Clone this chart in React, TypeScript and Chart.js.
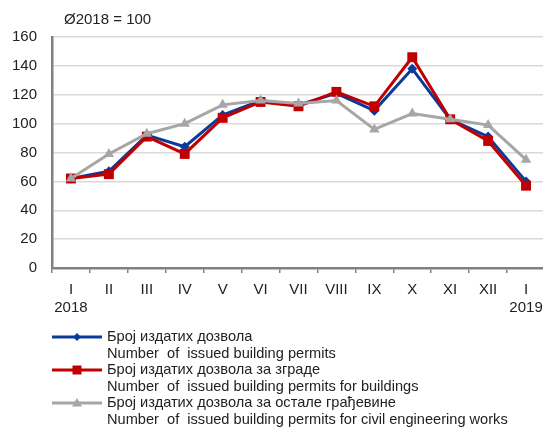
import React, { useEffect, useRef } from "react";
import { Chart, registerables } from "chart.js";

Chart.register(...registerables);

const categories: string[][] = [["I", "2018"], ["II"], ["III"], ["IV"], ["V"], ["VI"], ["VII"], ["VIII"], ["IX"], ["X"], ["XI"], ["XII"], ["I", "2019"]];
const totalPermits = [62, 67, 92, 84, 106, 116, 113, 121, 109, 138, 103, 91, 60];
const buildingPermits = [62, 65, 91, 79, 104, 115, 112, 122, 112, 146, 103, 88, 57];
const civilPermits = [62, 79, 93, 100, 113, 116, 114, 116, 96, 107, 103, 99, 75];
const seriesLabels = [
  ["Број издатих дозвола", "Number  of  issued building permits"],
  ["Број издатих дозвола за зграде", "Number  of  issued building permits for buildings"],
  ["Број издатих дозвола за остале грађевине", "Number  of  issued building permits for civil engineering works"],
];
const titleText = "Ø2018 = 100";

const BLUE = "#0b3a9a";
const RED = "#c00000";
const GRAY = "#a6a6a6";
const FONT = "Arial, 'Liberation Sans', sans-serif";
const NARROW = "'Liberation Sans Narrow', 'Arial Narrow', Arial, sans-serif";

function drawMarker(ctx: CanvasRenderingContext2D, style: string, x: number, y: number, r: number, color: string) {
  ctx.fillStyle = color;
  ctx.beginPath();
  if (style === "rectRot") {
    ctx.moveTo(x, y - r);
    ctx.lineTo(x + r, y);
    ctx.lineTo(x, y + r);
    ctx.lineTo(x - r, y);
  } else if (style === "rect") {
    ctx.rect(x - r, y - r, 2 * r, 2 * r);
  } else {
    ctx.moveTo(x, y - r);
    ctx.lineTo(x + r, y + r * 0.7);
    ctx.lineTo(x - r, y + r * 0.7);
  }
  ctx.closePath();
  ctx.fill();
}

const overlay = {
  id: "overlay",
  afterDraw(chart: any) {
    const ctx = chart.ctx;
    ctx.save();
    ctx.fillStyle = "#222";
    ctx.font = `15px ${FONT}`;
    ctx.textBaseline = "middle";
    ctx.textAlign = "left";
    ctx.fillText(titleText, 64, 20);
    const colors = [BLUE, RED, GRAY];
    const styles = ["rectRot", "rect", "triangle"];
    const radii = [4, 4.5, 5];
    const rowY = [337, 370, 403];
    for (let i = 0; i < 3; i++) {
      const y = rowY[i];
      ctx.strokeStyle = colors[i];
      ctx.lineWidth = 3;
      ctx.beginPath();
      ctx.moveTo(52, y);
      ctx.lineTo(102, y);
      ctx.stroke();
      drawMarker(ctx, styles[i], 77, y, radii[i], colors[i]);
      ctx.fillStyle = "#222";
      ctx.font = `14.6px ${FONT}`;
      ctx.fillText(seriesLabels[i][0], 107, y);
      ctx.fillText(seriesLabels[i][1], 107, y + 16.5);
    }
    ctx.restore();
  },
};

const CANVAS_W = 552;

export default function App() {
  const ref = useRef<HTMLCanvasElement | null>(null);
  useEffect(() => {
    if (!ref.current) return;
    const chart = new Chart(ref.current, {
      type: "line",
      data: {
        labels: categories,
        datasets: [
          {
            label: seriesLabels[0].join(" "),
            data: totalPermits,
            borderColor: BLUE,
            backgroundColor: BLUE,
            borderWidth: 3,
            pointStyle: "rectRot",
            pointRadius: 5,
            pointBorderWidth: 0,
            order: 2,
          },
          {
            label: seriesLabels[1].join(" "),
            data: buildingPermits,
            borderColor: RED,
            backgroundColor: RED,
            borderWidth: 3,
            pointStyle: "rect",
            pointRadius: 7,
            pointBorderWidth: 0,
            order: 1,
          },
          {
            label: seriesLabels[2].join(" "),
            data: civilPermits,
            borderColor: GRAY,
            backgroundColor: GRAY,
            borderWidth: 3,
            pointStyle: "triangle",
            pointRadius: 6,
            pointBorderWidth: 0,
            order: 0,
          },
        ],
      },
      options: {
        animation: false,
        responsive: false,
        devicePixelRatio: 1,
        layout: { padding: { top: 37, left: 0, right: 0, bottom: 0 } },
        plugins: { legend: { display: false }, tooltip: { enabled: false }, title: { display: false } },
        scales: {
          x: {
            offset: true,
            grid: { display: true, offset: true, drawOnChartArea: false, drawTicks: true, tickLength: 5, color: "#808080", lineWidth: 1.5 },
            border: { display: true, color: "#808080", width: 2.5 },
            ticks: { color: "#222", font: { size: 15, family: NARROW }, padding: 8, maxRotation: 0, autoSkip: false },
            afterFit: (s: any) => { s.height = 160; s.paddingLeft = 0; s.paddingRight = 0; },
          } as any,
          y: {
            min: 0,
            max: 160,
            ticks: { stepSize: 20, color: "#222", font: { size: 15, family: FONT }, padding: 15 },
            grid: { color: "#d9d9d9", lineWidth: 1.5, drawTicks: false },
            border: { display: true, color: "#808080", width: 2.5 },
            afterFit: (s: any) => { s.width = 52; },
          } as any,
        },
      },
      plugins: [overlay],
    });
    return () => chart.destroy();
  }, []);
  return (
    <div style={{ position: "absolute", left: 0, top: 0, width: 543, height: 428, overflow: "hidden", background: "#fff" }}>
      <canvas ref={ref} width={CANVAS_W} height={428} style={{ display: "block", width: CANVAS_W, height: 428 }} />
    </div>
  );
}
